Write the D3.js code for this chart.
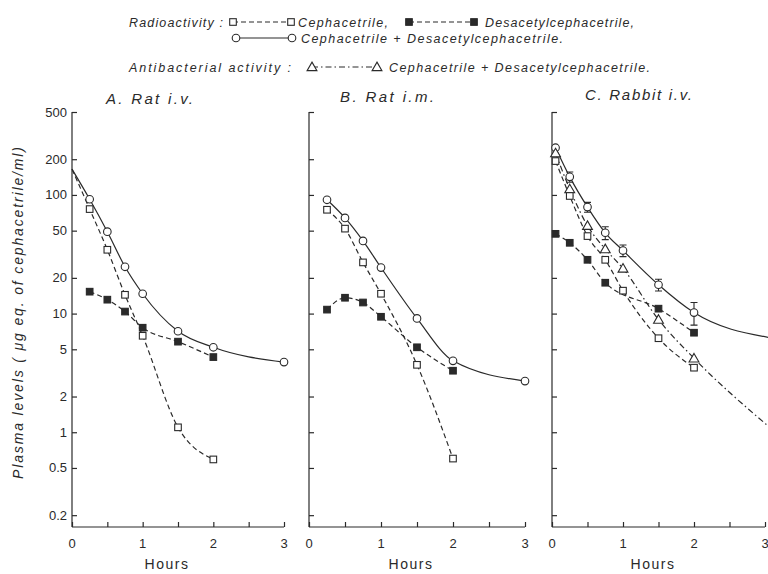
<!DOCTYPE html>
<html><head><meta charset="utf-8">
<script src="https://cdn.jsdelivr.net/npm/d3@7"></script>
<style>
body{margin:0;background:#fff}
svg{display:block}
text{font-family:"Liberation Sans",Arial,sans-serif;fill:#2a2a2a}
</style>
</head><body>
<svg id="chart" width="768" height="574"></svg>
<script>
// ---------------- DATA ----------------
const hourTicks = [0, 0.5, 1, 1.5, 2, 2.5, 3];
const hourLabels = [0, 1, 2, 3];
const yTickValues = [0.2, 0.5, 1, 2, 5, 10, 20, 50, 100, 200, 500];
const yTickLabels = ["0.2", "0.5", "1", "2", "5", "10", "20", "50", "100", "200", "500"];

// A. Rat i.v.
const aTimes = [0.25, 0.5, 0.75, 1, 1.5, 2];
const aCephacetrile = [76, 34.5, 14.4, 6.5, 1.1, 0.59];
const aDesacetyl = [15.3, 13.1, 10.4, 7.6, 5.8, 4.3];
const aTotalTimes = [0.25, 0.5, 0.75, 1, 1.5, 2, 3];
const aTotal = [92, 49, 24.8, 14.7, 7.1, 5.2, 3.9];
const aStartValue = 165; // curves extrapolated to t = 0

// B. Rat i.m.
const bTimes = [0.25, 0.5, 0.75, 1, 1.5, 2];
const bCephacetrile = [75, 52, 27, 14.7, 3.7, 0.6];
const bDesacetyl = [10.8, 13.6, 12.4, 9.4, 5.2, 3.3];
const bTotalTimes = [0.25, 0.5, 0.75, 1, 1.5, 2, 3];
const bTotal = [91, 64, 41, 24.4, 9.1, 4.0, 2.7];

// C. Rabbit i.v.
const cTimes = [0.05, 0.25, 0.5, 0.75, 1, 1.5, 2];
const cCephacetrile = [193, 98, 45, 28.4, 15.6, 6.2, 3.5];
const cDesTimes = [0.05, 0.25, 0.5, 0.75, 1.5, 2];
const cDesacetyl = [47, 39.5, 28.4, 18.2, 11, 6.9];
const cTotal = [250, 142, 79, 48, 34, 17.5, 10.2];
const cTotalErr = [0, 14, 7.5, 6, 3.8, 2, 2.2];
const cAntibacterial = [225, 112, 55, 35, 24, 8.9, 4.2];
const cExtrapTime = 3.05;
const cTotalExtrap = 6.3;
const cAntibacterialExtrap = 1.12;

// ---------------- DRAWING ----------------
const svg = d3.select("#chart");
const ink = "#2a2a2a";
const yScale = d3.scaleLog().domain([0.159, 500]).range([527, 112]);

const DASH = "5,3.2";
const DASHDOT = "6,3,1.5,3";

function drawMarker(g, type, cx, cy) {
  if (type === "circle") {
    g.append("circle").attr("cx", cx).attr("cy", cy).attr("r", 3.8)
      .attr("fill", "#fff").attr("stroke", ink).attr("stroke-width", 1.1);
  } else if (type === "square" || type === "filled") {
    g.append("rect").attr("x", cx - 3.3).attr("y", cy - 3.3).attr("width", 6.6).attr("height", 6.6)
      .attr("fill", type === "filled" ? ink : "#fff").attr("stroke", ink).attr("stroke-width", 1.1);
  } else if (type === "triangle") {
    g.append("path").attr("d", d3.symbol().type(d3.symbolTriangle).size(42)())
      .attr("transform", `translate(${cx},${cy + 0.8})`)
      .attr("fill", "#fff").attr("stroke", ink).attr("stroke-width", 1.1);
  }
}

const panels = [
  {
    x0: 72, x1: 284, title: "A. Rat  i.v.", titleX: 106, titleY: 104, titleLen: 87,
    hoursX: 167, showYLabels: true,
    series: [
      { t: [0].concat(aTotalTimes), v: [aStartValue].concat(aTotal), mt: aTotalTimes, mv: aTotal, dash: null, marker: "circle" },
      { t: [0].concat(aTimes), v: [aStartValue].concat(aCephacetrile), mt: aTimes, mv: aCephacetrile, dash: DASH, marker: "square" },
      { t: aTimes, v: aDesacetyl, mt: aTimes, mv: aDesacetyl, dash: DASH, marker: "filled" }
    ]
  },
  {
    x0: 309, x1: 525, title: "B. Rat  i.m.", titleX: 340, titleY: 102, titleLen: 94,
    hoursX: 411, showYLabels: false,
    series: [
      { t: bTotalTimes, v: bTotal, mt: bTotalTimes, mv: bTotal, dash: null, marker: "circle" },
      { t: bTimes, v: bCephacetrile, mt: bTimes, mv: bCephacetrile, dash: DASH, marker: "square" },
      { t: bTimes, v: bDesacetyl, mt: bTimes, mv: bDesacetyl, dash: DASH, marker: "filled" }
    ]
  },
  {
    x0: 552, x1: 765, title: "C. Rabbit  i.v.", titleX: 585, titleY: 100, titleLen: 107,
    hoursX: 653, showYLabels: false,
    series: [
      { t: cTimes.concat([cExtrapTime]), v: cTotal.concat([cTotalExtrap]), mt: cTimes, mv: cTotal, err: cTotalErr, dash: null, marker: "circle" },
      { t: cTimes.concat([cExtrapTime]), v: cAntibacterial.concat([cAntibacterialExtrap]), mt: cTimes, mv: cAntibacterial, dash: DASHDOT, marker: "triangle" },
      { t: cTimes, v: cCephacetrile, mt: cTimes, mv: cCephacetrile, dash: DASH, marker: "square" },
      { t: cDesTimes, v: cDesacetyl, mt: cDesTimes, mv: cDesacetyl, dash: DASH, marker: "filled" }
    ]
  }
];

panels.forEach(p => {
  const x = d3.scaleLinear().domain([0, 3]).range([p.x0, p.x1]);
  const g = svg.append("g");
  const yBottom = yScale.range()[0], yTop = yScale.range()[1];

  // y axis (ticks pointing inward)
  const yAxis = d3.axisRight(yScale).tickValues(yTickValues).tickSize(5).tickFormat("");
  const ya = g.append("g").attr("transform", `translate(${p.x0},0)`).call(yAxis);
  ya.select(".domain").attr("d", `M0,${yTop}V${yBottom}`);
  ya.selectAll("path,line").attr("stroke", ink).attr("stroke-width", 1.2);
  if (p.showYLabels) {
    yTickValues.forEach((v, i) => {
      g.append("text").attr("x", p.x0 - 5).attr("y", yScale(v) + 4.5)
        .attr("text-anchor", "end").attr("font-size", 13).text(yTickLabels[i]);
    });
  }

  // x axis (ticks pointing up)
  const xAxis = d3.axisTop(x).tickValues(hourTicks).tickSize(5).tickFormat("");
  const xa = g.append("g").attr("transform", `translate(0,${yBottom})`).call(xAxis);
  xa.select(".domain").attr("d", `M${p.x0},0H${p.x1}`);
  xa.selectAll("path,line").attr("stroke", ink).attr("stroke-width", 1.2);
  hourLabels.forEach(h => {
    g.append("text").attr("x", x(h)).attr("y", yBottom + 21)
      .attr("text-anchor", "middle").attr("font-size", 13).text(h);
  });
  g.append("text").attr("x", p.hoursX).attr("y", 569).attr("text-anchor", "middle")
    .attr("font-size", 14).attr("letter-spacing", 1.5).text("Hours");

  // title
  g.append("text").attr("x", p.titleX).attr("y", p.titleY).attr("font-size", 15)
    .attr("font-style", "italic").attr("textLength", p.titleLen).attr("lengthAdjust", "spacing")
    .text(p.title);

  // series
  const line = d3.line().x(d => x(d[0])).y(d => yScale(d[1])).curve(d3.curveMonotoneX);
  p.series.forEach(s => {
    const pts = s.t.map((t, i) => [t, s.v[i]]);
    g.append("path").attr("d", line(pts)).attr("fill", "none").attr("stroke", ink)
      .attr("stroke-width", 1.2).attr("stroke-dasharray", s.dash);
  });
  p.series.forEach(s => {
    s.mt.forEach((t, i) => {
      const v = s.mv[i];
      if (s.err && s.err[i] > 0) {
        const e = s.err[i];
        const yt = yScale(v + e), yb = yScale(v - e), cx = x(t);
        g.append("path").attr("d", `M${cx},${yt}V${yb}M${cx - 3.5},${yt}H${cx + 3.5}M${cx - 3.5},${yb}H${cx + 3.5}`)
          .attr("stroke", ink).attr("stroke-width", 1.1).attr("fill", "none");
      }
      drawMarker(g, s.marker, x(t), yScale(v));
    });
  });
});

// y axis label
svg.append("text").attr("transform", "translate(23,313) rotate(-90)")
  .attr("text-anchor", "middle").attr("font-size", 14).attr("font-style", "italic")
  .attr("textLength", 332).attr("lengthAdjust", "spacing")
  .text("Plasma levels ( \u03bcg eq. of cephacetrile/ml)");

// ---------------- LEGEND ----------------
const lg = svg.append("g");
function legendSample(x1, x2, y, marker, dash) {
  lg.append("line").attr("x1", x1).attr("x2", x2).attr("y1", y).attr("y2", y)
    .attr("stroke", ink).attr("stroke-width", 1.2).attr("stroke-dasharray", dash);
  drawMarker(lg, marker, x1, y);
  drawMarker(lg, marker, x2, y);
}
function legendText(x, y, str, len) {
  lg.append("text").attr("x", x).attr("y", y + 4.5).attr("font-size", 12.5)
    .attr("font-style", "italic").attr("textLength", len).attr("lengthAdjust", "spacing").text(str);
}
const r1 = 22, r2 = 38, r3 = 67;
legendText(129, r1, "Radioactivity :", 94);
legendSample(233, 291, r1, "square", "5,3");
legendText(298, r1, "Cephacetrile,", 90);
legendSample(409, 474, r1, "filled", "5,3");
legendText(485, r1, "Desacetylcephacetrile,", 149);
legendSample(236, 292, r2, "circle", null);
legendText(301, r2, "Cephacetrile + Desacetylcephacetrile.", 262);
legendText(129, r3, "Antibacterial activity :", 162);
legendSample(312, 377, r3, "triangle", "6,3,1.5,3");
legendText(389, r3, "Cephacetrile + Desacetylcephacetrile.", 261);
</script>
</body></html>
